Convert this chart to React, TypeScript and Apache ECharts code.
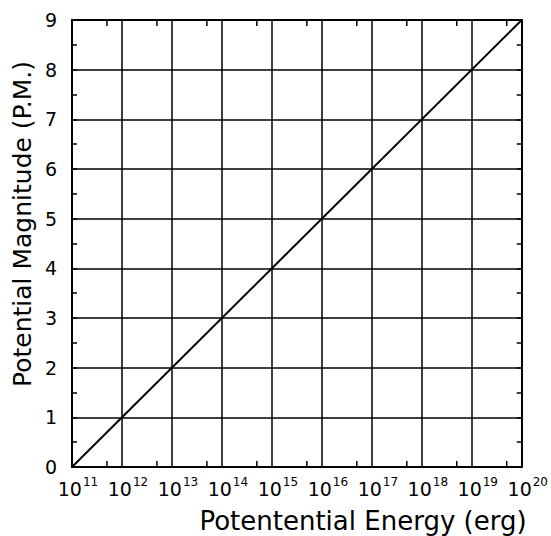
import React, { useEffect, useRef } from "react";
import * as echarts from "echarts";

// x axis: exponent of energy (erg), drawn as 10^n
const xExponents = [11, 12, 13, 14, 15, 16, 17, 18, 19, 20];
// minor ticks at 5 x 10^n (log10 positions)
const xMinorTicks = [11.699, 12.699, 13.699, 14.699, 15.699, 16.699, 17.699, 18.699, 19.699];
const yTicks = [0, 1, 2, 3, 4, 5, 6, 7, 8, 9];
// line: potential magnitude vs log10(energy)
const lineEnergyExp = [11, 20];
const lineMagnitude = [0, 9];

const FONT = "DejaVu Sans";

export default function App() {
  const ref = useRef<HTMLDivElement>(null);
  useEffect(() => {
    if (!ref.current) return;
    const chart = echarts.init(ref.current, null, { renderer: "svg" });
    const lineData = lineEnergyExp.map((e, i) => [e, lineMagnitude[i]]);
    const tickData = xMinorTicks.map((x) => [x, 0, 9]);
    chart.setOption({
      animation: false,
      backgroundColor: "#fff",
      grid: { left: 72, top: 20, right: 28, bottom: 69, containLabel: false },
      xAxis: [
        {
          type: "value",
          min: 11,
          max: 20,
          interval: 1,
          position: "bottom",
          axisLine: { show: true, onZero: false, lineStyle: { color: "#000", width: 2 } },
          axisTick: { show: false },
          splitLine: { show: true, lineStyle: { color: "#000", width: 1.5 } },
          axisLabel: {
            margin: 9,
            color: "#000",
            fontFamily: FONT,
            formatter: (v: number) => (xExponents.includes(v) ? `{b|10}{s|${v}}` : ""),
            rich: {
              b: { fontSize: 19, fontFamily: FONT, color: "#000", verticalAlign: "bottom", padding: [0, 0, 0, 12] },
              s: { fontSize: 12, fontFamily: FONT, color: "#000", verticalAlign: "bottom", padding: [0, 0, 10, 1] },
            },
          },
        },
        {
          type: "value",
          min: 11,
          max: 20,
          interval: 1,
          position: "top",
          axisLine: { show: true, onZero: false, lineStyle: { color: "#000", width: 2 } },
          axisTick: { show: false },
          axisLabel: { show: false },
          splitLine: { show: false },
        },
      ],
      yAxis: [
        {
          type: "value",
          min: 0,
          max: 9,
          interval: 1,
          position: "left",
          axisLine: { show: true, onZero: false, lineStyle: { color: "#000", width: 2 } },
          axisTick: { show: true, inside: true, length: 5, lineStyle: { color: "#000", width: 1.5 } },
          minorTick: { show: true, splitNumber: 2, length: 5, lineStyle: { color: "#000", width: 1.5 } },
          splitLine: { show: true, lineStyle: { color: "#000", width: 1.5 } },
          axisLabel: {
            margin: 15,
            color: "#000",
            fontSize: 19,
            fontFamily: FONT,
            formatter: (v: number) => (yTicks.includes(v) ? String(v) : ""),
          },
        },
        {
          type: "value",
          min: 0,
          max: 9,
          interval: 1,
          position: "right",
          axisLine: { show: true, onZero: false, lineStyle: { color: "#000", width: 2 } },
          axisTick: { show: true, inside: true, length: 5, lineStyle: { color: "#000", width: 1.5 } },
          minorTick: { show: true, splitNumber: 2, length: 5, lineStyle: { color: "#000", width: 1.5 } },
          splitLine: { show: false },
          axisLabel: { show: false },
        },
      ],
      series: [
        {
          type: "line",
          xAxisIndex: 0,
          yAxisIndex: 0,
          data: lineData,
          showSymbol: false,
          symbol: "none",
          lineStyle: { color: "#000", width: 2 },
        },
        {
          type: "custom",
          xAxisIndex: 0,
          yAxisIndex: 0,
          data: tickData,
          silent: true,
          clip: false,
          encode: { x: 0, y: [1, 2] },
          renderItem: (params: any, api: any) => {
            const bottom = api.coord([api.value(0), api.value(1)]);
            const top = api.coord([api.value(0), api.value(2)]);
            const style = { stroke: "#000", lineWidth: 1.5, fill: "none" };
            return {
              type: "group",
              children: [
                { type: "line", shape: { x1: bottom[0], y1: bottom[1], x2: bottom[0], y2: bottom[1] - 6 }, style },
                { type: "line", shape: { x1: top[0], y1: top[1], x2: top[0], y2: top[1] + 6 }, style },
              ],
            };
          },
        },
      ],
      graphic: [
        {
          type: "text",
          x: 22,
          y: 224,
          rotation: Math.PI / 2,
          style: {
            text: "Potential Magnitude (P.M.)",
            fontSize: 25,
            fontFamily: FONT,
            fill: "#000",
            align: "center",
            verticalAlign: "middle",
          },
        },
        {
          type: "text",
          x: 363,
          y: 521,
          style: {
            text: "Potentential Energy (erg)",
            fontSize: 26,
            fontFamily: FONT,
            fill: "#000",
            align: "center",
            verticalAlign: "middle",
          },
        },
      ],
    });
    return () => chart.dispose();
  }, []);
  return (
    <div
      ref={ref}
      style={{ position: "fixed", left: 0, top: 0, width: 551, height: 536 }}
    />
  );
}
